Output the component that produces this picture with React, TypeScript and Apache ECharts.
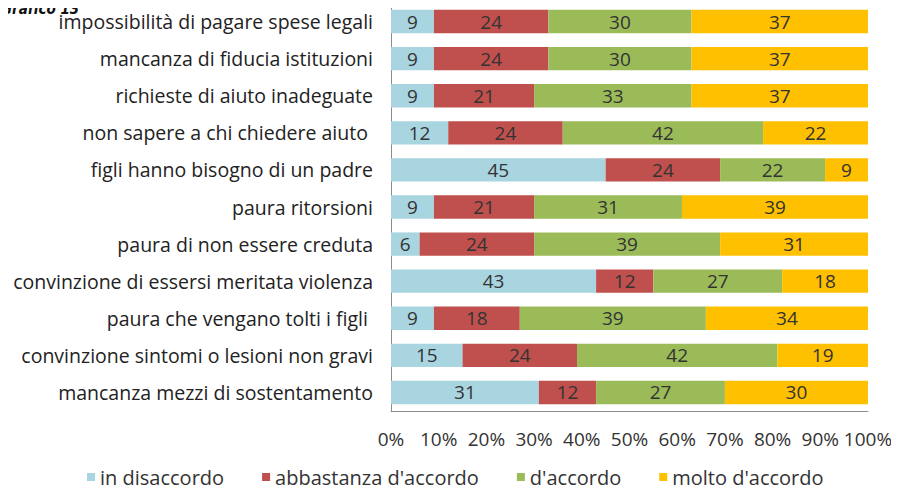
import React, { useEffect, useRef } from "react";
import * as echarts from "echarts";

const categories = [
  "impossibilità di pagare spese legali",
  "mancanza di fiducia istituzioni",
  "richieste di aiuto inadeguate",
  "non sapere a chi chiedere aiuto ",
  "figli hanno bisogno di un padre",
  "paura ritorsioni",
  "paura di non essere creduta",
  "convinzione di essersi meritata violenza",
  "paura che vengano tolti i figli ",
  "convinzione sintomi o lesioni non gravi",
  "mancanza mezzi di sostentamento",
];
const seriesNames = ["in disaccordo", "abbastanza d'accordo", "d'accordo", "molto d'accordo"];
const disaccordo = [9, 9, 9, 12, 45, 9, 6, 43, 9, 15, 31];
const abbastanza = [24, 24, 21, 24, 24, 21, 24, 12, 18, 24, 12];
const accordo = [30, 30, 33, 42, 22, 31, 39, 27, 39, 42, 27];
const molto = [37, 37, 37, 22, 9, 39, 31, 18, 34, 19, 30];
const colors = ["#A9D5E1", "#C0504D", "#9BBB59", "#FFC000"];

const FONT = "'Open Sans', 'Noto Sans', sans-serif";

export default function App() {
  const ref = useRef<HTMLDivElement>(null);
  useEffect(() => {
    const chart = echarts.init(ref.current!, null, { renderer: "svg" });
    const values = [disaccordo, abbastanza, accordo, molto];
    chart.setOption({
      animation: false,
      backgroundColor: "#ffffff",
      title: {
        text: "Grafico 13",
        left: 1,
        top: 0,
        padding: 0,
        textStyle: {
          fontFamily: "'Liberation Sans Narrow', 'DejaVu Sans Condensed', sans-serif",
          fontStyle: "italic",
          fontWeight: "bold",
          fontSize: 15,
          color: "#111",
          lineHeight: 17,
        },
      },
      legend: {
        top: 467,
        left: 87,
        itemWidth: 8,
        itemHeight: 8,
        itemGap: 38,
        padding: 0,
        icon: "rect",
        textStyle: { fontFamily: FONT, fontSize: 20, color: "#333" },
        data: seriesNames,
      },
      grid: { left: 391, right: 31, top: 3, height: 408, containLabel: false },
      xAxis: {
        type: "value",
        min: 0,
        max: 100,
        interval: 10,
        axisLabel: { formatter: "{value}%", fontFamily: FONT, fontSize: 19, color: "#333", margin: 18 },
        axisLine: { show: true, lineStyle: { color: "#8c8c8c" } },
        axisTick: { show: false },
        splitLine: { show: false },
      },
      yAxis: {
        type: "category",
        inverse: true,
        data: categories,
        axisLabel: { fontFamily: FONT, fontSize: 19.5, color: "#222", margin: 18 },
        axisLine: { show: true, lineStyle: { color: "#8c8c8c" } },
        axisTick: { show: false },
      },
      series: seriesNames.map((name, i) => ({
        name,
        type: "bar",
        stack: "total",
        barWidth: "63%",
        itemStyle: { color: colors[i] },
        label: {
          show: true,
          position: "inside",
          color: "#333",
          fontFamily: FONT,
          fontSize: 19,
        },
        data: values[i],
      })),
    });
    return () => chart.dispose();
  }, []);
  return <div ref={ref} style={{ width: 899, height: 495, margin: -8 }} />;
}
